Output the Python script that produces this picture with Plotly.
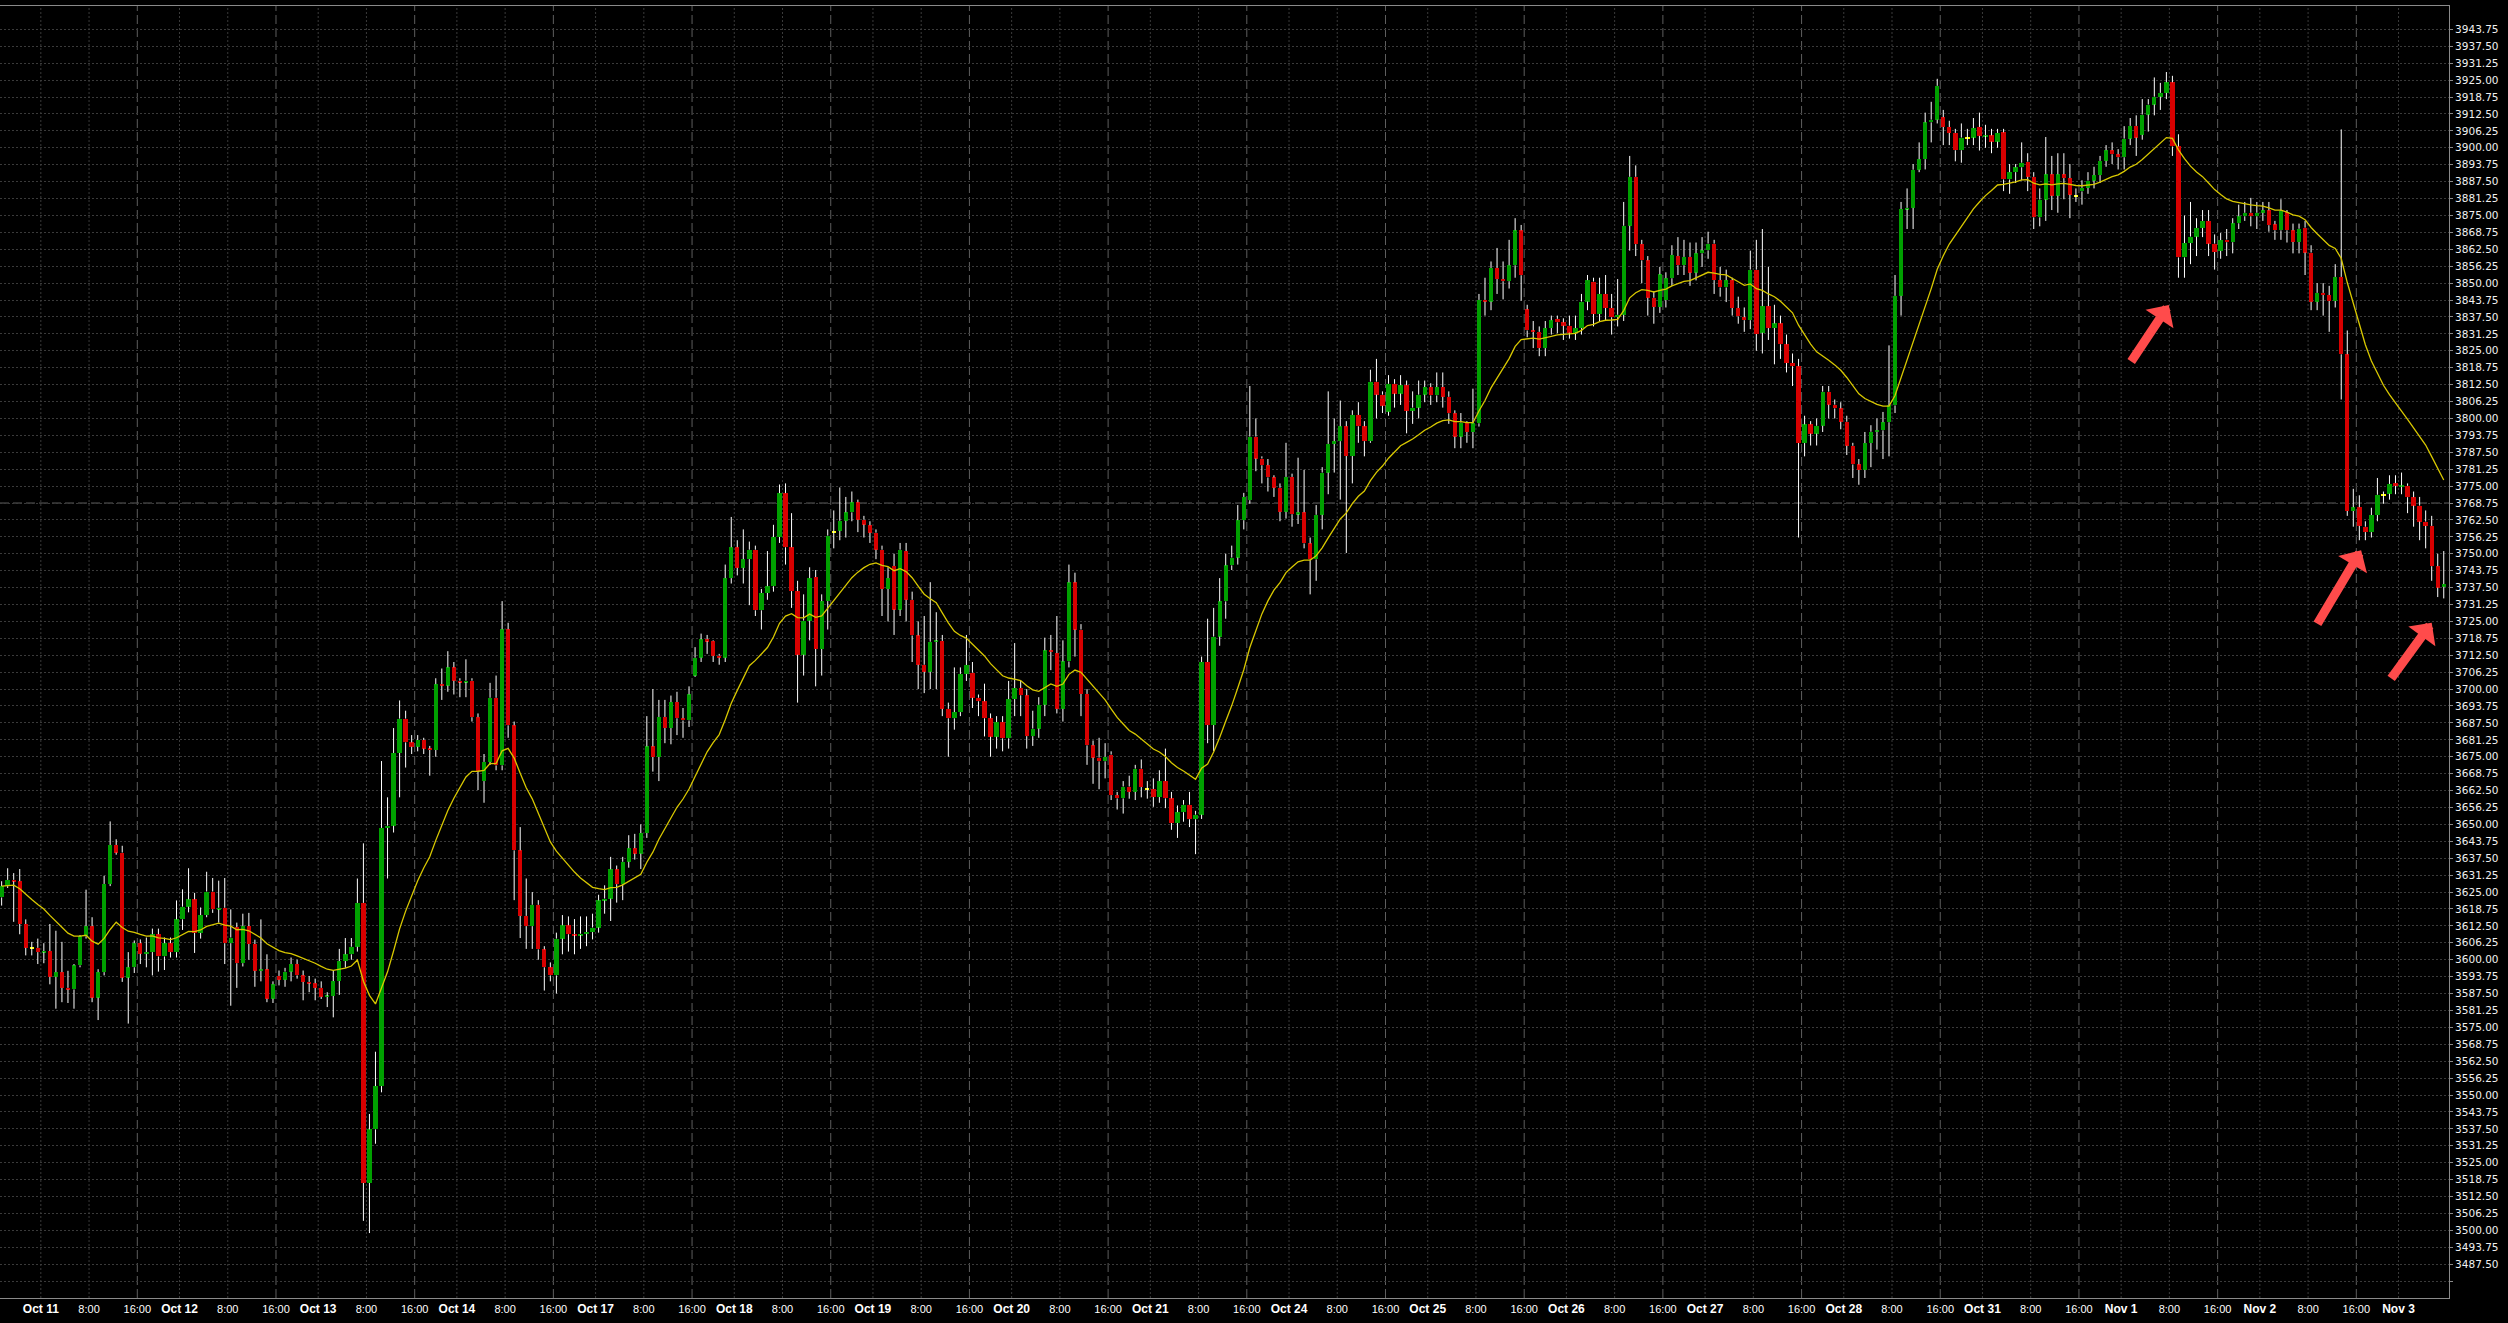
import plotly.graph_objects as go
import pandas as pd

# ---------------- data (hourly bars) ----------------
OPEN = [
    3623.0, 3627.2, 3629.5, 3629.0, 3613.2, 3604.4, 3604.4, 3602.8, 3603.2, 3593.7,
    3595.4, 3589.6, 3589.0, 3597.9, 3608.6, 3612.4, 3586.0, 3595.4, 3628.0, 3642.4,
    3639.6, 3593.4, 3597.2, 3606.1, 3602.2, 3602.8, 3609.4, 3601.2, 3606.1, 3602.8,
    3614.9, 3619.6, 3622.3, 3609.9, 3616.5, 3625.2, 3618.6, 3619.2, 3606.1, 3612.0,
    3598.7, 3612.4, 3605.8, 3595.9, 3596.4, 3585.6, 3594.0, 3592.6, 3595.6, 3598.4,
    3594.2, 3591.8, 3591.3, 3589.6, 3586.3, 3586.6, 3592.1, 3599.5, 3602.0, 3604.8,
    3621.0, 3517.5, 3537.3, 3553.3, 3648.7, 3649.5, 3676.4, 3689.1, 3680.3, 3678.7,
    3681.2, 3678.0, 3677.5, 3701.8, 3701.3, 3708.0, 3703.1, 3702.6, 3703.1, 3689.6,
    3666.0, 3673.1, 3696.8, 3671.8, 3722.1, 3686.6, 3640.4, 3616.2, 3612.4, 3620.3,
    3603.8, 3597.2, 3594.2, 3607.8, 3612.7, 3609.4, 3609.1, 3609.6, 3610.2, 3611.9,
    3621.9, 3622.6, 3633.4, 3627.9, 3636.2, 3641.2, 3639.2, 3646.8, 3678.8, 3674.9,
    3689.7, 3685.6, 3695.2, 3689.2, 3688.4, 3705.0, 3711.6, 3718.4, 3717.7, 3712.3,
    3711.6, 3741.0, 3752.4, 3744.8, 3748.0, 3751.5, 3729.1, 3735.5, 3738.0, 3756.2,
    3772.4, 3752.4, 3736.2, 3712.7, 3725.3, 3741.4, 3714.8, 3732.5, 3758.1, 3758.5,
    3762.2, 3765.3, 3769.0, 3762.6, 3760.5, 3757.8, 3751.5, 3737.0, 3745.5, 3729.4,
    3751.0, 3733.0, 3719.8, 3709.0, 3706.4, 3717.5, 3717.8, 3692.7, 3689.2, 3691.5,
    3705.6, 3706.1, 3696.8, 3695.5, 3689.2, 3682.4, 3687.8, 3681.8, 3696.3, 3700.4,
    3697.7, 3682.6, 3685.4, 3694.2, 3714.3, 3713.3, 3692.7, 3710.2, 3739.4, 3722.0,
    3698.2, 3679.2, 3674.7, 3673.3, 3675.8, 3660.8, 3659.6, 3664.0, 3662.0, 3670.6,
    3663.1, 3663.1, 3660.1, 3666.0, 3659.6, 3650.5, 3654.5, 3657.3, 3651.9, 3653.6,
    3710.0, 3686.7, 3719.4, 3732.4, 3745.7, 3748.6, 3762.4, 3769.8, 3793.3, 3785.2,
    3782.7, 3778.2, 3774.4, 3765.5, 3778.4, 3764.6, 3765.3, 3753.8, 3747.9, 3764.4,
    3780.0, 3790.6, 3791.6, 3797.1, 3786.1, 3801.3, 3797.1, 3791.6, 3813.6, 3808.8,
    3802.5, 3812.8, 3809.2, 3812.3, 3802.8, 3804.0, 3808.8, 3811.6, 3808.5, 3811.6,
    3808.0, 3801.9, 3793.3, 3798.5, 3795.0, 3798.2, 3843.8, 3843.2, 3855.6, 3851.5,
    3850.7, 3856.6, 3869.5, 3840.3, 3832.5, 3832.0, 3826.0, 3833.4, 3836.8, 3835.5,
    3834.3, 3831.7, 3833.4, 3843.2, 3850.6, 3838.6, 3846.0, 3840.8, 3837.4, 3838.3,
    3871.2, 3889.3, 3864.4, 3858.4, 3844.6, 3841.2, 3843.7, 3851.8, 3860.0, 3856.6,
    3859.7, 3853.9, 3861.0, 3862.1, 3864.6, 3851.1, 3848.4, 3851.1, 3840.8, 3837.4,
    3836.3, 3855.0, 3831.7, 3841.5, 3833.4, 3835.1, 3827.4, 3820.5, 3819.3, 3790.9,
    3797.8, 3794.4, 3797.3, 3809.9, 3805.1, 3803.7, 3798.8, 3789.9, 3783.0, 3781.0,
    3790.9, 3795.1, 3795.6, 3798.6, 3804.8, 3845.3, 3877.4, 3877.8, 3891.9, 3895.8,
    3909.4, 3910.4, 3911.3, 3907.7, 3905.5, 3899.1, 3903.8, 3903.8, 3907.7, 3904.4,
    3904.6, 3902.3, 3905.7, 3888.3, 3891.0, 3892.8, 3894.9, 3889.3, 3874.3, 3880.9,
    3890.2, 3882.3, 3890.2, 3888.8, 3882.3, 3883.9, 3885.2, 3887.9, 3889.9, 3895.2,
    3899.1, 3897.6, 3896.5, 3903.4, 3908.1, 3904.8, 3912.3, 3916.0, 3918.9, 3920.3,
    3924.2, 3900.5, 3859.5, 3864.8, 3867.2, 3870.4, 3873.0, 3864.6, 3861.9, 3866.1,
    3865.1, 3872.1, 3874.7, 3876.0, 3874.7, 3876.0, 3876.9, 3871.7, 3869.5, 3876.1,
    3869.5, 3865.2, 3870.5, 3861.3, 3843.1, 3846.4, 3845.6, 3843.4, 3852.3, 3823.7,
    3765.8, 3767.2, 3760.0, 3758.0, 3764.3, 3771.8, 3772.2, 3776.1, 3774.8, 3775.1,
    3770.9, 3767.8, 3761.9, 3760.3, 3745.4, 3737.8,
]
HIGH = [
    3629.0, 3633.8, 3632.0, 3633.5, 3614.9, 3606.6, 3607.8, 3606.1, 3613.2, 3610.7,
    3606.6, 3595.9, 3598.4, 3609.1, 3625.9, 3615.7, 3596.5, 3631.0, 3651.1, 3644.5,
    3642.1, 3602.8, 3607.1, 3607.5, 3608.2, 3611.5, 3611.5, 3608.2, 3608.2, 3621.9,
    3626.0, 3633.8, 3624.7, 3619.3, 3632.5, 3630.2, 3629.2, 3630.2, 3618.6, 3613.7,
    3617.0, 3617.3, 3607.4, 3614.9, 3602.0, 3592.0, 3596.0, 3597.0, 3600.8, 3600.0,
    3596.0, 3594.0, 3593.0, 3592.0, 3588.0, 3596.0, 3604.0, 3608.0, 3608.0, 3630.0,
    3643.0, 3543.0, 3566.0, 3673.4, 3660.0, 3685.6, 3695.8, 3692.0, 3683.0, 3683.0,
    3682.0, 3679.0, 3704.0, 3707.6, 3714.0, 3710.0, 3704.0, 3711.0, 3704.0, 3691.0,
    3676.0, 3702.3, 3705.0, 3732.5, 3724.5, 3688.0, 3649.0, 3630.0, 3625.0, 3622.0,
    3605.0, 3599.0, 3610.0, 3616.5, 3616.0, 3615.0, 3616.0, 3616.0, 3617.0, 3624.0,
    3627.5, 3638.0, 3634.8, 3638.0, 3646.0, 3646.5, 3650.0, 3690.0, 3700.0, 3696.0,
    3696.0, 3697.6, 3699.0, 3693.0, 3701.0, 3715.5, 3720.5, 3720.0, 3718.0, 3713.0,
    3746.0, 3763.6, 3755.0, 3759.0, 3754.5, 3753.0, 3737.0, 3751.0, 3760.7, 3775.6,
    3776.0, 3765.0, 3740.0, 3735.0, 3745.0, 3744.0, 3735.0, 3759.0, 3766.0, 3774.5,
    3771.0, 3773.0, 3770.0, 3764.0, 3762.0, 3759.0, 3753.0, 3745.0, 3750.0, 3754.0,
    3754.0, 3736.0, 3725.0, 3727.0, 3739.5, 3728.4, 3720.0, 3695.0, 3708.0, 3708.0,
    3720.0, 3710.0, 3698.0, 3702.0, 3691.0, 3690.0, 3690.0, 3703.0, 3717.0, 3703.0,
    3700.0, 3692.0, 3697.0, 3719.0, 3720.0, 3727.0, 3718.0, 3746.0, 3743.0, 3724.0,
    3700.0, 3681.0, 3682.0, 3680.0, 3677.0, 3662.0, 3666.0, 3668.0, 3672.0, 3674.0,
    3666.0, 3667.0, 3670.0, 3678.0, 3662.0, 3657.0, 3659.0, 3662.0, 3655.0, 3712.0,
    3726.0, 3730.0, 3741.0, 3750.0, 3753.0, 3768.0, 3772.5, 3812.0, 3800.0, 3786.0,
    3785.0, 3779.0, 3776.0, 3791.0, 3779.6, 3785.5, 3781.0, 3756.0, 3768.0, 3782.0,
    3810.0, 3800.0, 3806.6, 3799.0, 3803.0, 3806.0, 3799.0, 3818.0, 3822.0, 3810.0,
    3816.0, 3814.5, 3816.0, 3814.0, 3810.0, 3814.0, 3814.0, 3813.0, 3817.0, 3817.0,
    3810.0, 3803.0, 3802.0, 3799.0, 3811.0, 3846.0, 3852.0, 3858.0, 3863.0, 3858.0,
    3866.0, 3874.0, 3871.5, 3842.0, 3836.0, 3834.0, 3836.0, 3838.0, 3838.0, 3837.0,
    3838.0, 3838.0, 3846.0, 3853.0, 3852.0, 3852.0, 3853.0, 3846.0, 3851.5, 3880.0,
    3897.0, 3893.5, 3866.0, 3860.0, 3847.0, 3856.0, 3854.0, 3864.0, 3867.0, 3866.0,
    3865.0, 3865.0, 3867.0, 3869.0, 3866.0, 3856.0, 3855.0, 3852.0, 3845.0, 3841.0,
    3862.0, 3866.0, 3870.0, 3856.0, 3842.0, 3838.0, 3831.0, 3824.0, 3822.0, 3801.0,
    3799.0, 3800.0, 3812.0, 3812.0, 3807.0, 3806.0, 3801.0, 3791.0, 3785.0, 3795.0,
    3797.5, 3800.0, 3802.4, 3827.0, 3853.0, 3880.0, 3885.0, 3894.0, 3902.0, 3913.0,
    3917.0, 3925.5, 3914.0, 3910.0, 3907.0, 3909.0, 3907.0, 3911.0, 3913.0, 3908.5,
    3907.0, 3907.0, 3907.0, 3894.0, 3894.0, 3902.0, 3898.0, 3891.0, 3885.0, 3904.0,
    3897.0, 3898.0, 3898.0, 3894.0, 3885.0, 3888.0, 3891.0, 3893.0, 3897.0, 3901.0,
    3902.0, 3899.5, 3908.0, 3911.0, 3912.0, 3918.0, 3918.0, 3926.0, 3924.0, 3928.0,
    3926.6, 3905.0, 3875.0, 3880.0, 3874.0, 3877.0, 3877.0, 3868.0, 3868.5, 3870.0,
    3874.0, 3879.0, 3880.0, 3881.5, 3880.0, 3880.0, 3880.0, 3873.0, 3881.0, 3877.0,
    3872.0, 3872.0, 3873.0, 3864.0, 3850.0, 3850.0, 3849.0, 3857.0, 3906.8, 3832.5,
    3774.0, 3771.6, 3762.0, 3767.0, 3778.0, 3773.0, 3779.0, 3779.0, 3780.0, 3776.0,
    3773.0, 3771.0, 3766.0, 3764.0, 3750.0, 3751.0,
]
LOW = [
    3620.0, 3626.5, 3614.0, 3609.4, 3601.6, 3601.6, 3598.4, 3598.7, 3590.9, 3581.9,
    3584.3, 3584.0, 3581.9, 3597.2, 3607.8, 3584.3, 3577.7, 3594.2, 3627.2, 3638.8,
    3591.8, 3576.4, 3595.1, 3598.4, 3597.2, 3594.2, 3595.6, 3596.2, 3600.8, 3600.8,
    3611.0, 3617.5, 3602.5, 3607.8, 3615.7, 3617.3, 3613.7, 3598.4, 3583.0, 3589.6,
    3597.5, 3600.0, 3590.0, 3592.0, 3584.3, 3584.0, 3590.5, 3590.0, 3592.0, 3593.0,
    3585.0, 3588.0, 3585.0, 3585.5, 3582.5, 3578.7, 3587.0, 3597.0, 3600.0, 3603.0,
    3503.5, 3499.0, 3532.0, 3551.0, 3630.0, 3647.0, 3660.0, 3671.0, 3676.0, 3677.0,
    3676.0, 3668.0, 3675.0, 3696.0, 3699.0, 3698.0, 3697.0, 3697.0, 3688.0, 3662.7,
    3658.0, 3672.0, 3670.0, 3670.0, 3682.0, 3622.0, 3608.0, 3604.0, 3604.0, 3600.0,
    3588.6, 3592.0, 3587.5, 3602.0, 3603.0, 3602.0, 3604.0, 3605.0, 3607.5, 3610.0,
    3617.0, 3614.3, 3621.1, 3622.0, 3634.0, 3637.0, 3633.5, 3645.0, 3669.5, 3666.0,
    3680.0, 3679.6, 3683.0, 3682.0, 3686.0, 3704.5, 3710.0, 3713.0, 3710.0, 3709.0,
    3710.0, 3739.0, 3742.0, 3739.0, 3731.0, 3727.0, 3722.0, 3733.0, 3736.0, 3754.0,
    3746.0, 3730.0, 3695.0, 3705.0, 3718.0, 3701.0, 3705.0, 3722.0, 3752.0, 3755.0,
    3756.0, 3762.0, 3758.0, 3756.0, 3754.0, 3748.0, 3727.0, 3725.0, 3720.0, 3727.0,
    3725.0, 3710.0, 3700.0, 3698.5, 3700.0, 3700.0, 3690.0, 3675.0, 3685.0, 3690.0,
    3703.0, 3693.0, 3690.0, 3682.5, 3675.0, 3678.0, 3677.0, 3678.0, 3690.0, 3690.0,
    3678.0, 3679.0, 3682.0, 3690.0, 3707.0, 3691.0, 3688.0, 3708.0, 3712.0, 3690.0,
    3672.0, 3665.0, 3663.0, 3667.0, 3659.0, 3655.5, 3654.0, 3659.5, 3659.0, 3660.0,
    3659.5, 3656.5, 3658.0, 3656.0, 3648.0, 3645.0, 3651.0, 3649.0, 3639.0, 3652.0,
    3680.0, 3677.0, 3716.0, 3726.0, 3744.0, 3746.0, 3759.0, 3768.5, 3780.5, 3776.0,
    3773.0, 3771.0, 3762.0, 3763.0, 3760.0, 3761.0, 3752.0, 3735.0, 3740.0, 3759.0,
    3772.0, 3780.0, 3770.0, 3750.3, 3776.0, 3791.0, 3786.0, 3791.0, 3800.0, 3802.0,
    3801.0, 3804.0, 3805.0, 3794.5, 3798.0, 3800.0, 3806.0, 3805.0, 3806.0, 3804.0,
    3798.0, 3789.0, 3789.0, 3791.0, 3789.0, 3797.0, 3838.0, 3840.0, 3846.0, 3844.0,
    3848.0, 3852.0, 3843.5, 3830.0, 3826.0, 3823.0, 3823.0, 3831.0, 3831.5, 3829.0,
    3829.5, 3829.0, 3831.0, 3840.0, 3834.0, 3836.0, 3836.0, 3831.0, 3834.0, 3836.0,
    3862.0, 3860.0, 3850.0, 3838.0, 3835.0, 3839.0, 3841.0, 3849.0, 3853.0, 3853.0,
    3849.0, 3851.0, 3856.0, 3859.0, 3846.0, 3845.0, 3843.0, 3838.0, 3835.0, 3832.0,
    3833.0, 3825.0, 3824.0, 3829.0, 3820.0, 3822.0, 3817.0, 3812.0, 3756.0, 3786.0,
    3790.0, 3790.0, 3795.0, 3800.0, 3800.0, 3796.0, 3786.5, 3778.0, 3775.5, 3778.0,
    3782.0, 3788.5, 3785.0, 3786.0, 3802.0, 3838.0, 3870.0, 3870.0, 3891.0, 3892.0,
    3902.0, 3909.0, 3901.0, 3901.0, 3895.0, 3894.5, 3901.0, 3901.0, 3899.0, 3900.0,
    3898.0, 3900.0, 3884.0, 3883.0, 3887.0, 3888.0, 3884.0, 3870.0, 3871.0, 3873.0,
    3877.0, 3876.0, 3881.0, 3874.0, 3880.0, 3879.0, 3883.0, 3885.0, 3887.0, 3893.0,
    3894.0, 3892.0, 3892.0, 3901.0, 3897.0, 3903.0, 3906.0, 3912.0, 3914.0, 3918.0,
    3897.0, 3852.0, 3852.0, 3857.0, 3860.0, 3867.0, 3860.0, 3855.0, 3859.0, 3860.0,
    3861.0, 3870.0, 3873.0, 3871.0, 3870.0, 3873.0, 3869.0, 3866.0, 3866.0, 3865.0,
    3861.0, 3861.0, 3853.0, 3840.0, 3840.0, 3838.0, 3832.0, 3841.0, 3807.0, 3764.0,
    3760.0, 3755.0, 3755.0, 3756.0, 3762.0, 3768.5, 3770.0, 3772.0, 3772.0, 3765.0,
    3760.0, 3755.0, 3752.0, 3740.0, 3734.0, 3733.5,
]
CLOSE = [
    3627.2, 3629.5, 3629.0, 3613.2, 3604.4, 3604.4, 3602.8, 3603.2, 3593.7, 3595.4,
    3589.6, 3589.0, 3597.9, 3608.6, 3612.4, 3586.0, 3595.4, 3628.0, 3642.4, 3639.6,
    3593.4, 3597.2, 3606.1, 3602.2, 3602.8, 3609.4, 3601.2, 3606.1, 3602.8, 3614.9,
    3619.6, 3622.3, 3609.9, 3616.5, 3625.2, 3618.6, 3619.2, 3606.1, 3608.2, 3598.7,
    3612.4, 3605.8, 3595.9, 3596.4, 3585.6, 3590.9, 3592.6, 3595.6, 3598.4, 3594.2,
    3591.8, 3591.3, 3589.6, 3586.3, 3586.6, 3592.1, 3599.5, 3602.0, 3604.8, 3621.0,
    3517.5, 3537.3, 3553.3, 3648.7, 3649.5, 3676.4, 3689.1, 3680.3, 3678.7, 3681.2,
    3678.0, 3677.5, 3701.8, 3701.3, 3708.0, 3703.1, 3702.6, 3703.1, 3689.6, 3669.8,
    3673.1, 3696.8, 3671.8, 3722.1, 3686.6, 3640.4, 3616.2, 3612.4, 3620.3, 3603.8,
    3597.2, 3594.2, 3607.8, 3612.7, 3609.4, 3609.1, 3609.6, 3610.2, 3611.9, 3621.9,
    3622.6, 3633.4, 3627.9, 3636.2, 3641.2, 3639.2, 3646.8, 3678.8, 3674.9, 3689.7,
    3685.6, 3695.2, 3689.2, 3688.4, 3698.0, 3711.6, 3718.4, 3717.7, 3712.3, 3711.6,
    3741.0, 3752.4, 3744.8, 3748.0, 3751.5, 3729.1, 3735.5, 3738.0, 3756.2, 3772.4,
    3752.4, 3736.2, 3712.7, 3725.3, 3741.0, 3714.8, 3732.5, 3756.7, 3758.1, 3762.2,
    3765.3, 3769.0, 3762.6, 3760.8, 3757.8, 3751.5, 3737.0, 3741.0, 3729.4, 3751.5,
    3733.0, 3719.8, 3709.0, 3706.4, 3717.5, 3717.8, 3692.7, 3689.2, 3691.5, 3705.6,
    3708.9, 3696.8, 3695.5, 3689.2, 3682.4, 3687.8, 3681.8, 3696.3, 3700.4, 3697.7,
    3682.6, 3685.4, 3694.2, 3714.3, 3713.8, 3692.7, 3710.2, 3739.4, 3722.0, 3698.2,
    3679.2, 3674.7, 3673.3, 3675.0, 3660.8, 3659.6, 3664.0, 3662.0, 3670.6, 3663.8,
    3663.1, 3660.1, 3666.0, 3659.6, 3650.5, 3654.5, 3657.3, 3651.9, 3653.6, 3710.0,
    3686.7, 3719.4, 3732.4, 3745.7, 3748.6, 3762.4, 3771.0, 3793.3, 3785.2, 3782.7,
    3778.2, 3774.4, 3765.5, 3778.4, 3764.6, 3765.3, 3753.8, 3747.9, 3764.4, 3780.0,
    3790.6, 3791.6, 3797.1, 3786.1, 3801.3, 3797.1, 3791.6, 3813.6, 3808.8, 3804.7,
    3812.8, 3809.2, 3812.3, 3802.8, 3804.0, 3808.8, 3811.6, 3808.5, 3811.6, 3808.0,
    3801.9, 3793.3, 3798.5, 3795.0, 3798.2, 3843.8, 3843.2, 3855.6, 3851.5, 3850.7,
    3856.6, 3869.5, 3852.9, 3832.5, 3832.0, 3826.0, 3833.4, 3836.3, 3835.5, 3834.3,
    3831.7, 3833.4, 3843.2, 3851.1, 3838.6, 3846.0, 3840.8, 3837.4, 3838.3, 3871.2,
    3889.3, 3864.4, 3858.4, 3844.6, 3841.2, 3853.2, 3851.8, 3860.4, 3856.6, 3859.7,
    3853.9, 3861.0, 3862.1, 3864.6, 3851.1, 3848.4, 3851.1, 3840.8, 3837.7, 3836.3,
    3855.0, 3831.2, 3841.5, 3833.4, 3835.1, 3827.4, 3820.5, 3819.3, 3790.9, 3797.8,
    3794.4, 3797.3, 3809.9, 3805.1, 3803.7, 3798.8, 3789.9, 3783.0, 3781.0, 3790.9,
    3795.1, 3795.6, 3798.6, 3804.8, 3845.3, 3877.4, 3877.8, 3891.9, 3895.8, 3909.4,
    3910.4, 3922.9, 3907.7, 3905.5, 3899.1, 3903.8, 3903.8, 3907.3, 3904.4, 3904.6,
    3902.3, 3905.5, 3888.3, 3891.0, 3892.8, 3894.5, 3889.3, 3874.3, 3880.9, 3890.2,
    3882.3, 3890.2, 3888.8, 3882.7, 3882.3, 3885.2, 3887.9, 3889.9, 3895.2, 3899.1,
    3897.6, 3896.5, 3903.4, 3908.1, 3903.8, 3912.3, 3916.0, 3918.9, 3920.3, 3924.2,
    3900.5, 3859.5, 3864.8, 3867.2, 3870.4, 3873.0, 3864.6, 3861.5, 3865.9, 3865.1,
    3872.1, 3874.7, 3876.0, 3874.7, 3876.0, 3876.9, 3871.4, 3869.5, 3876.7, 3869.5,
    3865.2, 3870.1, 3861.3, 3843.1, 3846.4, 3845.6, 3843.4, 3852.3, 3823.7, 3765.8,
    3767.2, 3760.3, 3758.0, 3764.3, 3771.8, 3771.8, 3775.8, 3775.1, 3775.2, 3770.9,
    3767.8, 3761.9, 3760.3, 3745.4, 3737.5, 3738.8,
]

DAY_LABELS = ["Oct 11", "Oct 12", "Oct 13", "Oct 14", "Oct 17", "Oct 18", "Oct 19",
              "Oct 20", "Oct 21", "Oct 24", "Oct 25", "Oct 26", "Oct 27", "Oct 28",
              "Oct 31", "Nov 1", "Nov 2", "Nov 3"]
TIME_LABELS = ["8:00", "16:00"]

Y_TICKS = [3481.25, 3487.50, 3493.75, 3500.00, 3506.25, 3512.50, 3518.75, 3525.00,
           3531.25, 3537.50, 3543.75, 3550.00, 3556.25, 3562.50, 3568.75, 3575.00,
           3581.25, 3587.50, 3593.75, 3600.00, 3606.25, 3612.50, 3618.75, 3625.00,
           3631.25, 3637.50, 3643.75, 3650.00, 3656.25, 3662.50, 3668.75, 3675.00,
           3681.25, 3687.50, 3693.75, 3700.00, 3706.25, 3712.50, 3718.75, 3725.00,
           3731.25, 3737.50, 3743.75, 3750.00, 3756.25, 3762.50, 3768.75, 3775.00,
           3781.25, 3787.50, 3793.75, 3800.00, 3806.25, 3812.50, 3818.75, 3825.00,
           3831.25, 3837.50, 3843.75, 3850.00, 3856.25, 3862.50, 3868.75, 3875.00,
           3881.25, 3887.50, 3893.75, 3900.00, 3906.25, 3912.50, 3918.75, 3925.00,
           3931.25, 3937.50, 3943.75]
Y_UNLABELLED = [3481.25]
LEVEL_LINE = 3768.75

# arrows: (head bar index, head price, tail bar index, tail price)
ARROWS = [(359.4, 3841.9, 353.0, 3820.5),
          (391.3, 3751.3, 383.9, 3723.6),
          (403.0, 3724.5, 396.1, 3703.4)]
MA_SPAN = 20

# ---------------- layout constants ----------------
BARS_PER_DAY = 23
FIRST_MIDNIGHT = 6.5
BG = "#000000"
UP = "#00a000"
DOWN = "#d80000"
FLAT = "#ffff00"
GRID = "#3a3a3a"
GRID_LONG = "#5e5e5e"

n = len(CLOSE)
xs = list(range(n))

# wicks: only the parts outside the body
wx, wy = [], []
for i in xs:
    blo, bhi = min(OPEN[i], CLOSE[i]), max(OPEN[i], CLOSE[i])
    if HIGH[i] > bhi:
        wx += [i, i, None]
        wy += [bhi, HIGH[i], None]
    if LOW[i] < blo:
        wx += [i, i, None]
        wy += [LOW[i], blo, None]

# bodies
base, height, colors = [], [], []
for o, c in zip(OPEN, CLOSE):
    lo, hi = min(o, c), max(o, c)
    h = hi - lo
    if h < 0.45:
        mid = (lo + hi) / 2
        lo, h = mid - 0.225, 0.45
    base.append(lo)
    height.append(h)
    colors.append(UP if c > o else (DOWN if c < o else FLAT))

ma = pd.Series(CLOSE).ewm(span=MA_SPAN, adjust=False).mean()

fig = go.Figure()
fig.add_trace(go.Scatter(x=wx, y=wy, mode="lines", line=dict(color="#ffffff", width=1),
                         hoverinfo="skip", showlegend=False))
fig.add_trace(go.Bar(x=xs, y=height, base=base, width=0.72, marker=dict(color=colors, line=dict(width=0)),
                     showlegend=False, hoverinfo="skip"))
fig.add_trace(go.Scatter(x=xs, y=ma, mode="lines", line=dict(color="#d8c800", width=1.3),
                         hoverinfo="skip", showlegend=False))

# x ticks / vertical grid
tickvals, ticktext, shapes = [], [], []
for d, lab in enumerate(DAY_LABELS):
    p0 = FIRST_MIDNIGHT + BARS_PER_DAY * d
    tickvals.append(p0)
    ticktext.append("<b>%s</b>" % lab)
    shapes.append(dict(type="line", xref="x", yref="paper", x0=p0, x1=p0, y0=0, y1=1,
                       line=dict(color=GRID, width=1, dash="2px,2px"), layer="below"))
    if d < len(DAY_LABELS) - 1:
        for j, t in enumerate(TIME_LABELS):
            p = p0 + 8 * (j + 1)
            tickvals.append(p)
            ticktext.append("<span style='font-size:11px'>%s</span>" % t)
            long_dash = (t == "16:00")
            shapes.append(dict(type="line", xref="x", yref="paper", x0=p, x1=p, y0=0, y1=1,
                               line=dict(color=GRID_LONG if long_dash else GRID, width=1,
                                         dash="9px,4px" if long_dash else "2px,2px"),
                               layer="below"))
shapes.append(dict(type="line", xref="paper", yref="y", x0=0, x1=1, y0=LEVEL_LINE, y1=LEVEL_LINE,
                   line=dict(color=GRID_LONG, width=1, dash="9px,4px"), layer="below"))

annotations = []
for hx, hy, tx, ty in ARROWS:
    annotations.append(dict(x=hx, y=hy, ax=tx, ay=ty, xref="x", yref="y", axref="x", ayref="y",
                            text="", showarrow=True, arrowhead=1, arrowsize=0.62, arrowwidth=9,
                            arrowcolor="#ff4b4b", standoff=0))

fig.update_layout(
    width=2508, height=1323,
    margin=dict(l=0, r=59, t=6, b=25),
    paper_bgcolor=BG, plot_bgcolor=BG,
    showlegend=False, bargap=0,
    shapes=shapes, annotations=annotations,
    font=dict(family="Liberation Sans", color="#ffffff"),
    xaxis=dict(range=[-0.27, 405.87], tickvals=tickvals, ticktext=ticktext,
               tickfont=dict(family="Liberation Sans", size=12, color="#ffffff"),
               showgrid=False, zeroline=False, showline=True, linecolor="#8a8a8a",
               linewidth=1, mirror=True, ticks="", automargin=False),
    yaxis=dict(side="right", range=[3475.0, 3952.4], tickvals=Y_TICKS,
               ticktext=["" if v in Y_UNLABELLED else "%.2f" % v for v in Y_TICKS],
               tickfont=dict(family="DejaVu Sans", size=10.5, color="#f0f0f0"),
               showgrid=True, gridcolor=GRID, griddash="2px,2px", gridwidth=1,
               zeroline=False, showline=True, linecolor="#8a8a8a", linewidth=1, mirror=True,
               ticks="outside", ticklen=3, tickcolor="#8a8a8a", automargin=False),
)

fig.write_html("out.html", config={"displayModeBar": False},
               post_script="document.body.style.margin='0px';document.body.style.background='#000';")
